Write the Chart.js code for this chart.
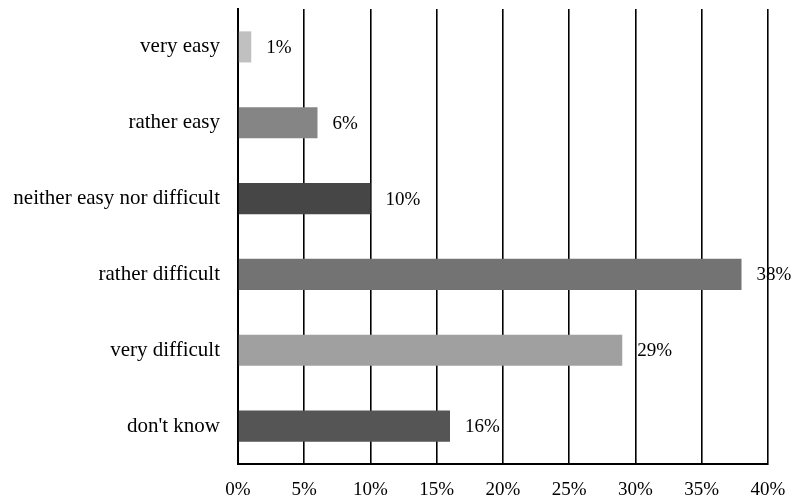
<!DOCTYPE html>
<html>
<head>
<meta charset="utf-8">
<script src="https://cdn.jsdelivr.net/npm/chart.js@4"></script>
<style>
  html, body { margin: 0; padding: 0; background: #fff; }
  #wrap { width: 795px; height: 500px; }
</style>
</head>
<body>
<div id="wrap"><canvas id="difficultyChart"></canvas></div>
<script>
const categories = ['very easy', 'rather easy', 'neither easy nor difficult', 'rather difficult', 'very difficult', "don't know"];
const shares = [1, 6, 10, 38, 29, 16];
const barColors = ['#c0c0c0', '#858585', '#464646', '#737373', '#a0a0a0', '#555555'];
const xTicks = [0, 5, 10, 15, 20, 25, 30, 35, 40];

const serif = '"Liberation Serif", "Times New Roman", serif';

document.addEventListener('DOMContentLoaded', function() {
    // value labels at the end of each bar
    const valueLabels = {
        id: 'valueLabels',
        afterDatasetsDraw: function(chart) {
            const ctx = chart.ctx;
            const meta = chart.getDatasetMeta(0);
            ctx.save();
            ctx.font = '19px ' + serif;
            ctx.fillStyle = '#000';
            ctx.textAlign = 'left';
            ctx.textBaseline = 'middle';
            meta.data.forEach(function(bar, i) {
                ctx.fillText(shares[i] + '%', bar.x + 15, bar.y + 1);
            });
            ctx.restore();
        }
    };

    const ctx = document.getElementById('difficultyChart');
    new Chart(ctx.getContext('2d'), {
        type: 'bar',
        data: {
            labels: categories,
            datasets: [{
                data: shares,
                backgroundColor: barColors,
                borderWidth: 0,
                barPercentage: 0.41,
                categoryPercentage: 1
            }]
        },
        options: {
            indexAxis: 'y',
            responsive: true,
            maintainAspectRatio: false,
            animation: false,
            layout: {
                padding: { top: 9, right: 27, bottom: 0, left: 0 }
            },
            plugins: {
                legend: { display: false },
                tooltip: { enabled: false }
            },
            scales: {
                x: {
                    min: 0,
                    max: 40,
                    afterBuildTicks: function(scale) {
                        scale.ticks = xTicks.map(function(v) { return { value: v }; });
                    },
                    afterFit: function(scale) {
                        scale.height = 36;
                        scale.paddingLeft = 0;
                        scale.paddingRight = 0;
                    },
                    ticks: {
                        color: '#000',
                        padding: 15,
                        maxRotation: 0,
                        font: { family: serif, size: 19 },
                        callback: function(value) { return value + '%'; }
                    },
                    grid: {
                        color: '#000',
                        lineWidth: 1.6,
                        drawTicks: false
                    },
                    border: { display: true, color: '#000', width: 2 }
                },
                y: {
                    afterFit: function(scale) {
                        scale.width = 238;
                        scale.paddingTop = 0;
                        scale.paddingBottom = 0;
                    },
                    ticks: {
                        color: '#000',
                        padding: 18,
                        font: { family: serif, size: 21 }
                    },
                    grid: { display: false, drawTicks: false },
                    border: { display: true, color: '#000', width: 2 }
                }
            }
        },
        plugins: [valueLabels]
    });
});
</script>
</body>
</html>
